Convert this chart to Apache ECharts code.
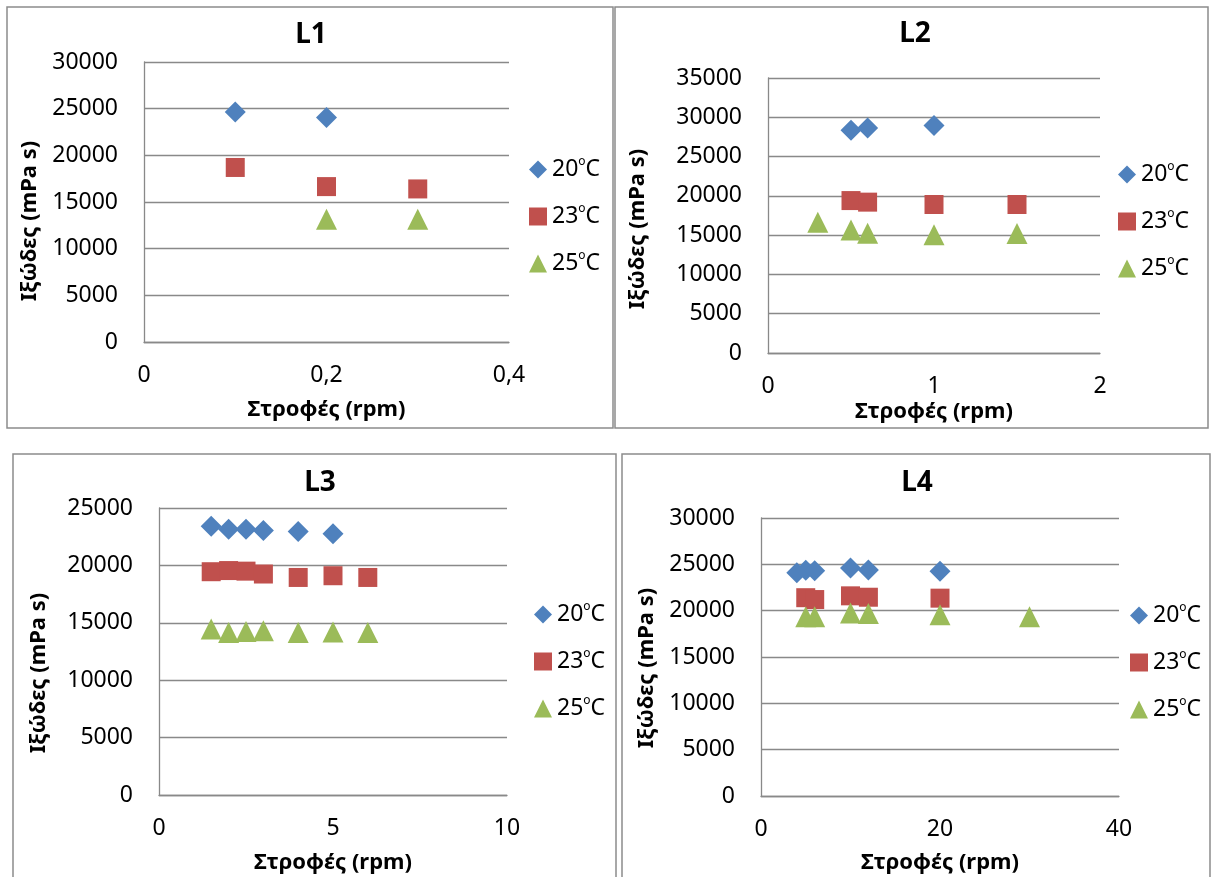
<!DOCTYPE html>
<html>
<head>
<meta charset="utf-8">
<title>Ιξώδες L1-L4</title>
<script src="https://cdn.jsdelivr.net/npm/echarts@6/dist/echarts.min.js"></script>
<style>
  html, body { margin: 0; padding: 0; background: #fff; }
  #chart { width: 1211px; height: 877px; }
</style>
</head>
<body>
<div id="chart"></div>
<script>
// series names (temperatures)
const tempNames = ['20°C', '23°C', '25°C']

// L1 : [rpm, mPa s]
const l1T20 = [[0.1, 24650], [0.2, 24050]]
const l1T23 = [[0.1, 18700], [0.2, 16650], [0.3, 16400]]
const l1T25 = [[0.2, 13150], [0.3, 13150]]

// L2
const l2T20 = [[0.5, 28350], [0.6, 28650], [1, 28950]]
const l2T23 = [[0.5, 19400], [0.6, 19200], [1, 18900], [1.5, 18900]]
const l2T25 = [[0.3, 16650], [0.5, 15650], [0.6, 15250], [1, 15050], [1.5, 15200]]

// L3
const l3T20 = [[1.5, 23400], [2, 23150], [2.5, 23150], [3, 23050], [4, 22950], [5, 22750]]
const l3T23 = [[1.5, 19450], [2, 19550], [2.5, 19500], [3, 19250], [4, 18950], [5, 19100], [6, 18950]]
const l3T25 = [[1.5, 14450], [2, 14150], [2.5, 14250], [3, 14300], [4, 14150], [5, 14200], [6, 14150]]

// L4
const l4T20 = [[4, 24100], [5, 24350], [6, 24300], [10, 24600], [12, 24400], [20, 24250]]
const l4T23 = [[5, 21400], [6, 21200], [10, 21600], [12, 21450], [20, 21350]]
const l4T25 = [[5, 19350], [6, 19350], [10, 19750], [12, 19700], [20, 19550], [30, 19350]]

// axis ranges per panel: [min, max, interval]
const xRanges = [[0, 0.4, 0.2], [0, 2, 1], [0, 10, 5], [0, 40, 20]]
const yRanges = [[0, 30000, 5000], [0, 35000, 5000], [0, 25000, 5000], [0, 30000, 5000]]
const panelTitles = ['L1', 'L2', 'L3', 'L4']
const xTitle = 'Στροφές (rpm)'
const yTitle = 'Ιξώδες (mPa s)'

const panelData = [
  [l1T20, l1T23, l1T25],
  [l2T20, l2T23, l2T25],
  [l3T20, l3T23, l3T25],
  [l4T20, l4T23, l4T25]
]

// layout (pixels)
const FONT = '"Noto Sans", "DejaVu Sans", sans-serif'
const plots = [
  { left: 144, right: 509, top: 62, bottom: 342 },
  { left: 768, right: 1100, top: 78, bottom: 353 },
  { left: 159, right: 507, top: 508, bottom: 795 },
  { left: 761, right: 1119, top: 518, bottom: 796 }
]
const titlePos = [[311, 35], [915, 34], [320, 483], [917, 483]]
const legendPos = [[529, 156], [1118, 161], [534, 601], [1130, 602]]
const xNameGap = [57, 48, 57, 56]
const yNamePos = [[30, 221], [638, 229], [39, 673], [647, 668]]
const frames = [
  [7, 7, 606, 421],
  [615, 7, 593, 421],
  [13, 454, 603, 440],
  [622, 454, 588, 440]
]

const colors = ['#4F81BD', '#C0504D', '#9BBB59']
const symbols = ['diamond', 'rect', 'triangle']
const symbolSizes = [21, 19, 21]
const gridColor = '#898989'

const chart = echarts.init(document.getElementById('chart'))

const grid = plots.map(p => ({
  left: p.left, top: p.top, width: p.right - p.left, height: p.bottom - p.top
}))

const xAxis = xRanges.map((r, i) => ({
  type: 'value',
  gridIndex: i,
  min: r[0], max: r[1], interval: r[2],
  name: xTitle,
  nameLocation: 'middle',
  nameGap: xNameGap[i],
  nameTextStyle: { fontFamily: FONT, fontSize: 22, fontWeight: 'bold', color: '#000' },
  axisLine: { show: true, lineStyle: { color: gridColor, width: 1.3 } },
  axisTick: { show: false },
  splitLine: { show: false },
  axisLabel: {
    fontFamily: FONT, fontSize: 23, color: '#000', margin: 22,
    formatter: v => String(v).replace('.', ',')
  }
}))

const yAxis = yRanges.map((r, i) => ({
  type: 'value',
  gridIndex: i,
  min: r[0], max: r[1], interval: r[2],
  axisLine: { show: true, lineStyle: { color: gridColor, width: 1.3 } },
  axisTick: { show: false },
  splitLine: { show: true, lineStyle: { color: gridColor, width: 1.3 } },
  axisLabel: {
    fontFamily: FONT, fontSize: 23, color: '#000', margin: 26,
    formatter: v => String(v)
  }
}))

const title = panelTitles.map((t, i) => ({
  text: t,
  left: titlePos[i][0],
  top: titlePos[i][1],
  textAlign: 'center',
  textVerticalAlign: 'middle',
  padding: 0,
  textStyle: { fontFamily: FONT, fontSize: 28, fontWeight: 'bold', color: '#000' }
}))

const legend = legendPos.map(p => ({
  orient: 'vertical',
  left: p[0],
  top: p[1],
  padding: 0,
  itemGap: 20,
  itemWidth: 18,
  itemHeight: 18,
  selectedMode: false,
  data: tempNames.map((n, k) => ({ name: n, icon: symbols[k] })),
  formatter: n => n.replace('°', '{s|o}'),
  textStyle: {
    fontFamily: FONT, fontSize: 23, color: '#000', lineHeight: 27,
    rich: { s: { fontFamily: FONT, fontSize: 12, lineHeight: 12, verticalAlign: 'top' } }
  }
}))

const series = []
panelData.forEach((sets, i) => {
  sets.forEach((pts, k) => {
    series.push({
      name: tempNames[k],
      type: 'scatter',
      xAxisIndex: i,
      yAxisIndex: i,
      symbol: symbols[k],
      symbolSize: symbolSizes[k],
      itemStyle: { color: colors[k], opacity: 1 },
      data: pts
    })
  })
})

// panel frames + rotated y-axis titles
const graphic = frames.map(f => ({
  type: 'rect',
  silent: true,
  z: -1,
  shape: { x: f[0], y: f[1], width: f[2], height: f[3] },
  style: { fill: null, stroke: '#8c8c8c', lineWidth: 1.5 }
})).concat(yNamePos.map(p => ({
  type: 'text',
  silent: true,
  x: p[0],
  y: p[1],
  rotation: Math.PI / 2,
  style: {
    text: yTitle,
    fontFamily: FONT,
    fontSize: 22,
    fontWeight: 'bold',
    fill: '#000',
    align: 'center',
    verticalAlign: 'middle'
  }
})))

chart.setOption({
  backgroundColor: '#fff',
  animation: false,
  grid,
  xAxis,
  yAxis,
  title,
  legend,
  graphic,
  series
})
</script>
</body>
</html>
